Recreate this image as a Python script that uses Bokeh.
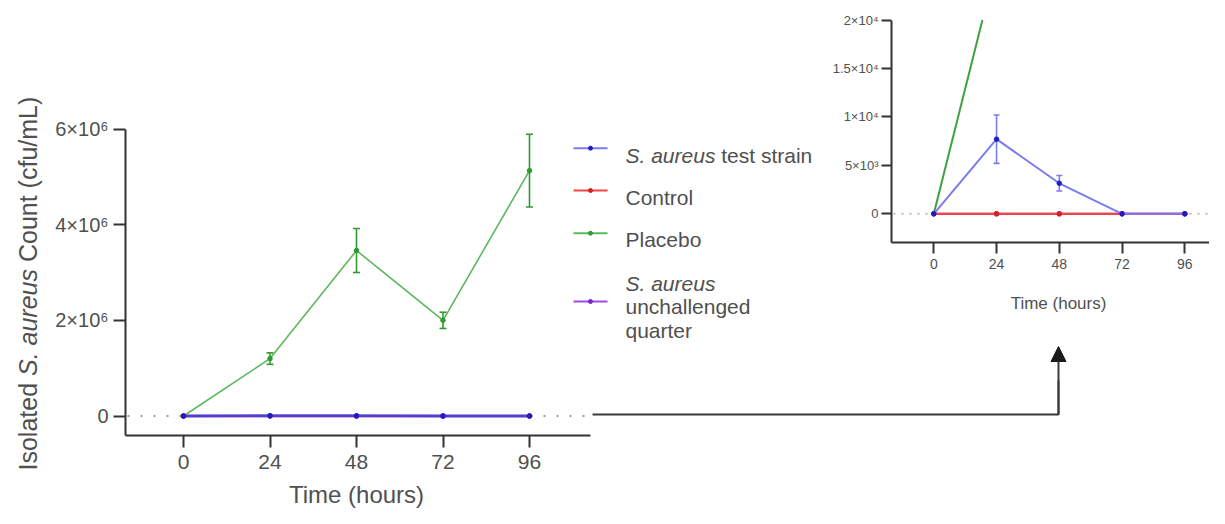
import math
from bokeh.plotting import figure
from bokeh.models import (Range1d, LinearAxis, FixedTicker, Whisker, ColumnDataSource,
                          TeeHead, Arrow, NormalHead)
from bokeh.core.properties import value
from bokeh.embed import file_html
from bokeh.resources import INLINE

# ---------------- data ----------------
hours = [0, 24, 48, 72, 96]
# main chart, cfu/mL
placebo = [0, 1.2e6, 3.46e6, 2.0e6, 5.13e6]
placebo_err = [0, 0.12e6, 0.46e6, 0.17e6, 0.76e6]
test_strain = [0, 7700, 3150, 0, 0]
test_strain_err = [0, 2500, 800, 0, 0]
control = [0, 0, 0, 0, 0]
unchallenged = [0, 0, 0, 0, 0]
# placebo line as it appears in the inset (leaves the top of the axis)
placebo_inset_hours = [0, 24]
placebo_inset = [0, 25800]

x_ticks = [0, 24, 48, 72, 96]
main_y_ticks = [0, 2000000, 4000000, 6000000]
main_y_labels = ["0", "2×10⁶", "4×10⁶", "6×10⁶"]
inset_y_ticks = [0, 5000, 10000, 15000, 20000]
inset_y_labels = ["0", "5×10³", "1×10⁴", "1.5×10⁴", "2×10⁴"]

legend_names = ["test strain", "Control", "Placebo", "unchallenged"]
x_title = "Time (hours)"
y_title = ["Isolated", "S. aureus", "Count (cfu/mL)"]

# ---------------- layout helpers ----------------
FONT = "Liberation Sans"
TXT = "#505050"
AX = "#333333"
BLUE, BLUE_D = "#7b7bf0", "#1c1cc8"
RED, RED_D = "#f04646", "#d81e1e"
GREEN, GREEN_D = "#5cb85c", "#2f9a2f"
PURPLE, PURPLE_D = "#9a4ae6", "#7a22d0"

W, H = 1209, 508
L, R, T, B = 0, W, 0, H   # picture coordinates of the canvas


def lin(v0, p0, v1, p1):
    s = (v1 - v0) / (p1 - p0)
    return lambda P: v0 + (P - p0) * s


mx = lin(0, 183, 96, 529)
my = lin(0, 415.5, 6e6, 128.5)
ix = lin(0, 933.3, 96, 1184.3)
iy = lin(0, 213.3, 2e4, 19.5)

p = figure(width=W, height=H, x_range=Range1d(mx(L), mx(R)), y_range=Range1d(my(B), my(T)),
           output_backend="svg", toolbar_location=None, min_border=0,
           x_axis_type=None, y_axis_type=None)
p.outline_line_color = None
p.background_fill_color = "white"
p.border_fill_color = "white"
p.extra_x_ranges = {"ix": Range1d(ix(L), ix(R)), "px": Range1d(L, R)}
p.extra_y_ranges = {"iy": Range1d(iy(B), iy(T)), "py": Range1d(B, T)}


def style_axis(ax, size, tick_out, standoff):
    ax.axis_line_color = AX
    ax.axis_line_width = 2
    ax.major_tick_line_color = AX
    ax.major_tick_line_width = 2
    ax.major_tick_out = tick_out
    ax.major_tick_in = 0
    ax.minor_tick_out = 0
    ax.minor_tick_in = 0
    ax.major_label_text_font = FONT
    ax.major_label_text_font_size = size
    ax.major_label_text_color = TXT
    ax.major_label_standoff = standoff


# ---------------- main axes ----------------
m_yaxis = LinearAxis(ticker=FixedTicker(ticks=main_y_ticks),
                     major_label_overrides={t: s for t, s in zip(main_y_ticks, main_y_labels)},
                     fixed_location=mx(125), bounds=(my(435), main_y_ticks[-1]))
style_axis(m_yaxis, "20px", 12, 5)
p.add_layout(m_yaxis, "left")

m_xaxis = LinearAxis(ticker=FixedTicker(ticks=x_ticks),
                     major_label_overrides={t: str(t) for t in x_ticks},
                     fixed_location=my(435), bounds=(mx(125), mx(590)))
style_axis(m_xaxis, "21px", 12, 7)
p.add_layout(m_xaxis, "below")

# ---------------- inset axes ----------------
i_yaxis = LinearAxis(ticker=FixedTicker(ticks=inset_y_ticks),
                     major_label_overrides={t: s for t, s in zip(inset_y_ticks, inset_y_labels)},
                     fixed_location=ix(891), bounds=(iy(241.7), inset_y_ticks[-1]),
                     x_range_name="ix", y_range_name="iy")
style_axis(i_yaxis, "13px", 10, 3)
p.add_layout(i_yaxis, "left")

i_xaxis = LinearAxis(ticker=FixedTicker(ticks=x_ticks),
                     major_label_overrides={t: str(t) for t in x_ticks},
                     fixed_location=iy(241.7), bounds=(ix(891), ix(R)),
                     x_range_name="ix", y_range_name="iy")
style_axis(i_xaxis, "14px", 11, 6)
p.add_layout(i_xaxis, "below")

# ---------------- zero reference lines (dotted) ----------------
p.line([mx(127), mx(590)], [0, 0], line_color="#777777", line_width=1.6, line_dash="2 11")
p.line([ix(893), ix(R)], [0, 0], x_range_name="ix", y_range_name="iy",
       line_color="#aaaaaa", line_width=1.4, line_dash="2 6")


def whiskers(xs, ys, es, color, xr="default", yr="default", size=7):
    idx = [k for k, e in enumerate(es) if e > 0]
    src = ColumnDataSource(dict(base=[xs[k] for k in idx],
                                upper=[ys[k] + es[k] for k in idx],
                                lower=[ys[k] - es[k] for k in idx]))
    w = Whisker(source=src, base="base", upper="upper", lower="lower", dimension="height",
                line_color=color, line_width=1.6,
                upper_head=TeeHead(size=size, line_color=color, line_width=1.6),
                lower_head=TeeHead(size=size, line_color=color, line_width=1.6),
                x_range_name=xr, y_range_name=yr)
    p.add_layout(w)


def series(xs, ys, color, dot, xr="default", yr="default", lw=1.6):
    p.line(xs, ys, line_color=color, line_width=lw, x_range_name=xr, y_range_name=yr)
    p.scatter(xs, ys, marker="circle", size=4.5, fill_color=dot, line_color=dot,
              x_range_name=xr, y_range_name=yr)


# ---------------- main chart ----------------
series(hours, placebo, GREEN, GREEN_D)
whiskers(hours, placebo, placebo_err, GREEN_D)
series(hours, unchallenged, PURPLE, PURPLE_D, lw=2.5)
series(hours, control, RED, RED_D, lw=2.5)
series(hours, test_strain, "#4444dd", BLUE_D, lw=2.5)

# ---------------- inset ----------------
top = inset_y_ticks[-1]
gx = [placebo_inset_hours[0],
      placebo_inset_hours[0] + (placebo_inset_hours[1] - placebo_inset_hours[0])
      * (top - placebo_inset[0]) / (placebo_inset[1] - placebo_inset[0])]
gy = [placebo_inset[0], top]
p.line(gx, gy, line_color="#3fa23f", line_width=2, x_range_name="ix", y_range_name="iy")
series(hours, unchallenged, PURPLE, PURPLE_D, "ix", "iy", lw=2)
series(hours, control, RED, RED_D, "ix", "iy", lw=2.2)
series(hours, test_strain, BLUE, BLUE_D, "ix", "iy", lw=2)
whiskers(hours, test_strain, test_strain_err, BLUE, "ix", "iy", size=6)

# ---------------- arrow from main chart to inset ----------------
p.line([592, 1058, 1058], [414, 414, 380], x_range_name="px", y_range_name="py",
       line_color="#3a3a3a", line_width=2)
p.add_layout(Arrow(x_start=1058, y_start=414, x_end=1058, y_end=346,
                   x_range_name="px", y_range_name="py",
                   line_color="#3a3a3a", line_width=2,
                   end=NormalHead(size=15, fill_color="#1a1a1a", line_color="#1a1a1a")))

# ---------------- texts ----------------
def txt(x, y, s, size, style="normal", align="left", baseline="alphabetic", angle=0.0, color=TXT):
    p.text(x=[x], y=[y], text=[s], x_range_name="px", y_range_name="py",
           text_font=value(FONT), text_font_size=size, text_font_style=style,
           text_align=align, text_baseline=baseline, angle=angle, text_color=color)


# y title, rotated, pieces placed along the axis
fs = 25
y0 = 470
y1 = y0 - (3.502 + 0.278) * fs
y2 = y1 - (4.280 + 0.278) * fs
txt(27, y0, y_title[0], f"{fs}px", angle=math.pi / 2)
txt(27, y1, y_title[1], f"{fs}px", style="italic", angle=math.pi / 2)
txt(27, y2, y_title[2], f"{fs}px", angle=math.pi / 2)

txt(356, 494, x_title, "24px", align="center")
txt(1058, 303, x_title, "17px", align="center")

# legend
lf = 21
rows = [(147.7, BLUE, BLUE_D), (190, RED, RED_D), (232.7, GREEN, GREEN_D), (301, PURPLE, PURPLE_D)]
for yy, c, d in rows:
    p.line([573, 607], [yy, yy], x_range_name="px", y_range_name="py", line_color=c, line_width=2)
    p.scatter([590], [yy], marker="circle", size=4, fill_color=d, line_color=d,
              x_range_name="px", y_range_name="py")
tx = 625
txt(tx, 155, y_title[1], f"{lf}px", style="italic")
txt(tx + (4.280 + 0.278) * lf, 155, legend_names[0], f"{lf}px")
txt(tx, 197, legend_names[1], f"{lf}px")
txt(tx, 239, legend_names[2], f"{lf}px")
txt(tx, 283, y_title[1], f"{lf}px", style="italic")
txt(tx, 306, legend_names[3], f"{lf}px")
txt(tx, 330, "quarter", f"{lf}px")

open("out.html", "w").write(file_html(p, INLINE))
